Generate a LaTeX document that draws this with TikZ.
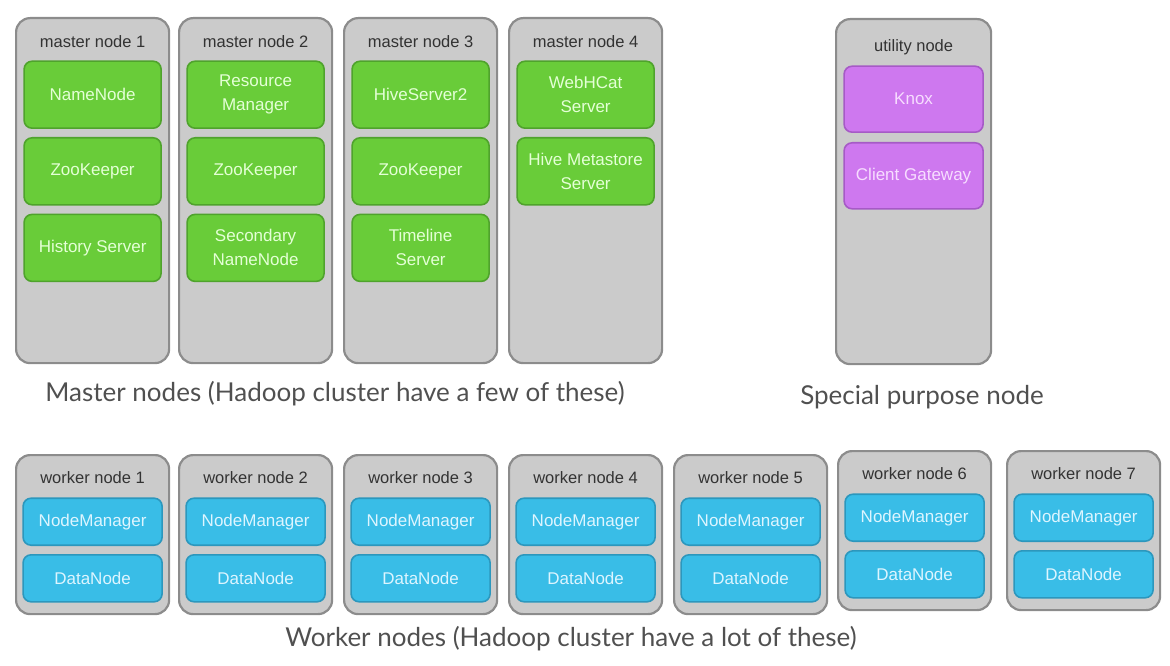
\documentclass[tikz,border=0pt]{standalone}
\usepackage{fontspec}
\setmainfont{Liberation Sans}
\newfontfamily\captionfont{Lato}
\usetikzlibrary{positioning}

\definecolor{hostfill}{HTML}{CBCBCB}
\definecolor{hostedge}{HTML}{8C8C8C}
\definecolor{greenfill}{HTML}{69CC39}
\definecolor{greenedge}{HTML}{4FA32C}
\definecolor{greentext}{HTML}{E4FFD6}
\definecolor{bluefill}{HTML}{39BDE7}
\definecolor{blueedge}{HTML}{2C97BD}
\definecolor{bluetext}{HTML}{DDF5FF}
\definecolor{purplefill}{HTML}{CE78EF}
\definecolor{purpleedge}{HTML}{A65AC6}
\definecolor{purpletext}{HTML}{F7DDFF}
\definecolor{captiongray}{HTML}{505050}

\begin{document}
\begin{tikzpicture}[
    x=1pt, y=-1pt,
    hostbox/.style     = {rectangle, rounded corners=14pt, draw=hostedge, fill=hostfill,
                          line width=2.2pt, anchor=north west, inner sep=0pt,
                          minimum width=153pt},
    masterbox/.style   = {hostbox, minimum height=345pt},
    workerbox/.style   = {hostbox, minimum height=159pt},
    hostlabel/.style   = {font=\fontsize{16.5}{16.5}\selectfont, text=black!80, inner sep=0pt,
                          text height=12pt, text depth=3pt},
    service/.style     = {rectangle, rounded corners=8pt, line width=1.6pt, inner sep=0pt,
                          align=center, font=\fontsize{17}{24}\selectfont},
    greenservice/.style  = {service, draw=greenedge, fill=greenfill, text=greentext,
                            minimum width=137pt, minimum height=67pt},
    purpleservice/.style = {service, draw=purpleedge, fill=purplefill, text=purpletext,
                            minimum width=139pt, minimum height=66pt},
    blueservice/.style   = {service, draw=blueedge, fill=bluefill, text=bluetext,
                            minimum width=139pt, minimum height=47pt},
    caption/.style     = {font=\captionfont\fontsize{26}{26}\selectfont, text=captiongray,
                          inner sep=0pt},
]
    \useasboundingbox (0,0) rectangle (1170,666);

    %Master nodes
    \node[masterbox]     (master1)   at (15,17)  {};
    \node[hostlabel]     (master1label)   [below=18pt of master1.north]  {master node 1};
    \node[greenservice]  (namenode)       [below=10pt of master1label]   {NameNode};
    \node[greenservice]  (zookeeper1)     [below=8pt of namenode]        {ZooKeeper};
    \node[greenservice]  (historyserver)  [below=8pt of zookeeper1]      {History Server};

    \node[masterbox]     (master2)   at (178,17) {};
    \node[hostlabel]     (master2label)   [below=18pt of master2.north]  {master node 2};
    \node[greenservice]  (resourcemanager)[below=10pt of master2label]   {Resource\\Manager};
    \node[greenservice]  (zookeeper2)     [below=8pt of resourcemanager] {ZooKeeper};
    \node[greenservice]  (secondarynn)    [below=8pt of zookeeper2]      {Secondary\\NameNode};

    \node[masterbox]     (master3)   at (343,17) {};
    \node[hostlabel]     (master3label)   [below=18pt of master3.north]  {master node 3};
    \node[greenservice]  (hiveserver)     [below=10pt of master3label]   {HiveServer2};
    \node[greenservice]  (zookeeper3)     [below=8pt of hiveserver]      {ZooKeeper};
    \node[greenservice]  (timeline)       [below=8pt of zookeeper3]      {Timeline\\Server};

    \node[masterbox]     (master4)   at (508,17) {};
    \node[hostlabel]     (master4label)   [below=18pt of master4.north]  {master node 4};
    \node[greenservice]  (webhcat)        [below=10pt of master4label]   {WebHCat\\Server};
    \node[greenservice]  (metastore)      [below=8pt of webhcat]         {Hive Metastore\\Server};

    %Utility node
    \node[masterbox, minimum width=155pt] (utility) at (835,18) {};
    \node[hostlabel]     (utilitylabel)   [below=21pt of utility.north]  {utility node};
    \node[purpleservice] (knox)           [below=11pt of utilitylabel]   {Knox};
    \node[purpleservice] (gateway)        [below=9pt of knox]            {Client Gateway};

    %Worker nodes
    \node[workerbox]     (worker1)   at (15,454)  {};
    \node[hostlabel]     (worker1label)   [below=17pt of worker1.north]  {worker node 1};
    \node[blueservice]   (nodemanager1)   [below=11pt of worker1label]   {NodeManager};
    \node[blueservice]   (datanode1)      [below=8pt of nodemanager1]    {DataNode};

    \node[workerbox]     (worker2)   at (178,454) {};
    \node[hostlabel]     (worker2label)   [below=17pt of worker2.north]  {worker node 2};
    \node[blueservice]   (nodemanager2)   [below=11pt of worker2label]   {NodeManager};
    \node[blueservice]   (datanode2)      [below=8pt of nodemanager2]    {DataNode};

    \node[workerbox]     (worker3)   at (343,454) {};
    \node[hostlabel]     (worker3label)   [below=17pt of worker3.north]  {worker node 3};
    \node[blueservice]   (nodemanager3)   [below=11pt of worker3label]   {NodeManager};
    \node[blueservice]   (datanode3)      [below=8pt of nodemanager3]    {DataNode};

    \node[workerbox]     (worker4)   at (508,454) {};
    \node[hostlabel]     (worker4label)   [below=17pt of worker4.north]  {worker node 4};
    \node[blueservice]   (nodemanager4)   [below=11pt of worker4label]   {NodeManager};
    \node[blueservice]   (datanode4)      [below=8pt of nodemanager4]    {DataNode};

    \node[workerbox]     (worker5)   at (673,454) {};
    \node[hostlabel]     (worker5label)   [below=17pt of worker5.north]  {worker node 5};
    \node[blueservice]   (nodemanager5)   [below=11pt of worker5label]   {NodeManager};
    \node[blueservice]   (datanode5)      [below=8pt of nodemanager5]    {DataNode};

    \node[workerbox]     (worker6)   at (837,450) {};
    \node[hostlabel]     (worker6label)   [below=17pt of worker6.north]  {worker node 6};
    \node[blueservice]   (nodemanager6)   [below=11pt of worker6label]   {NodeManager};
    \node[blueservice]   (datanode6)      [below=8pt of nodemanager6]    {DataNode};

    \node[workerbox]     (worker7)   at (1006,450) {};
    \node[hostlabel]     (worker7label)   [below=17pt of worker7.north]  {worker node 7};
    \node[blueservice]   (nodemanager7)   [below=11pt of worker7label]   {NodeManager};
    \node[blueservice]   (datanode7)      [below=8pt of nodemanager7]    {DataNode};

    %Captions
    \node[caption] (mastercaption)  at (335,394) {Master nodes (Hadoop cluster have a few of these)};
    \node[caption] (utilitycaption) at (922,397) {Special purpose node};
    \node[caption] (workercaption)  at (571,639) {Worker nodes (Hadoop cluster have a lot of these)};
\end{tikzpicture}
\end{document}
